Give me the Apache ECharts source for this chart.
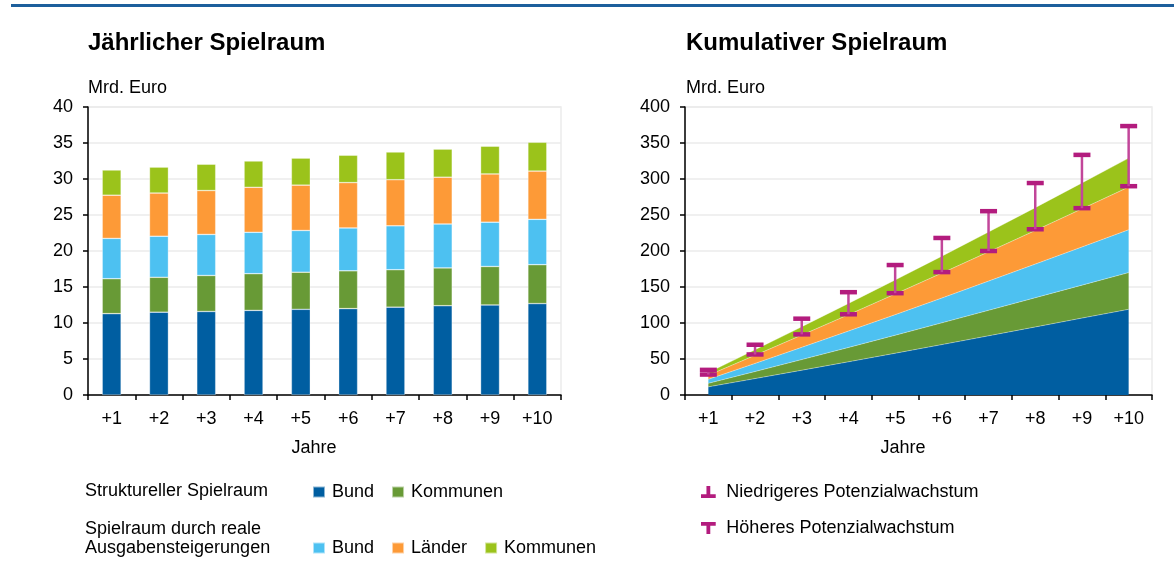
<!DOCTYPE html>
<html>
<head>
<meta charset="utf-8">
<title>Spielraum</title>
<script src="https://cdn.jsdelivr.net/npm/echarts@6/dist/echarts.min.js"></script>
<style>
  html, body { margin: 0; padding: 0; background: #fff; }
  #chart { width: 1174px; height: 568px; }
</style>
</head>
<body>
<div id="chart"></div>
<script>
// Kategorien (Jahre)
const years = ['+1', '+2', '+3', '+4', '+5', '+6', '+7', '+8', '+9', '+10']

// Jährlicher Spielraum, Mrd. Euro
const bundStrukturell = [11.3, 11.5, 11.6, 11.75, 11.9, 12.0, 12.2, 12.4, 12.5, 12.7]
const kommunenStrukturell = [4.85, 4.85, 5.0, 5.1, 5.15, 5.25, 5.2, 5.25, 5.35, 5.4]
const bundReal = [5.6, 5.7, 5.7, 5.75, 5.8, 5.95, 6.1, 6.1, 6.15, 6.3]
const laenderReal = [6.0, 6.0, 6.1, 6.25, 6.3, 6.3, 6.4, 6.5, 6.7, 6.7]
const kommunenReal = [3.5, 3.6, 3.65, 3.65, 3.75, 3.8, 3.85, 3.9, 3.85, 4.0]

// Kumulativer Spielraum, Mrd. Euro
const cumBund = [11.3, 22.8, 34.4, 46.1, 58.0, 70.0, 82.2, 94.5, 106.8, 119.0]
const cumKommunen = [4.9, 9.8, 14.8, 19.9, 25.0, 30.2, 35.4, 40.6, 45.8, 51.0]
const cumBundReal = [5.6, 11.3, 17.0, 22.8, 28.6, 34.5, 40.6, 46.7, 53.0, 59.5]
const cumLaenderReal = [5.6, 11.3, 17.0, 22.8, 28.7, 34.6, 40.6, 46.7, 53.0, 59.3]
const cumKommunenReal = [3.8, 7.7, 11.6, 15.5, 19.5, 23.5, 27.6, 31.7, 35.9, 40.2]

// Potenzialwachstum (Spanne)
const potLow = [28.4, 56.3, 84.2, 112.1, 141.4, 170.7, 200, 230.2, 259.5, 290]
const potHigh = [34.9, 69.8, 106, 142.8, 180.5, 218.1, 255.3, 294.4, 333.5, 373.5]

// Achsen-Ticks
const leftTicks = { min: 0, max: 40, interval: 5 }
const rightTicks = { min: 0, max: 400, interval: 50 }

const FONT = '"Liberation Sans", Arial, Helvetica, sans-serif'
const C_BUND = '#005ea1'
const C_KOMM = '#689a36'
const C_BUND_R = '#4dc1f1'
const C_LAND = '#fd9a37'
const C_KOMM_R = '#9bc31b'
const C_POT = '#b31c7e'

const chart = echarts.init(document.getElementById('chart'))

const grids = [
  { left: 88, top: 107, width: 473, height: 288 },
  { left: 685, top: 107, width: 467, height: 288 }
]

const makeX = (gridIndex) => ({
  type: 'category',
  gridIndex,
  data: years,
  boundaryGap: true,
  axisLine: { lineStyle: { color: '#000', width: 1.5 } },
  axisTick: { show: true, length: 5, lineStyle: { color: '#000', width: 1.5 } },
  axisLabel: { color: '#000', fontSize: 18, fontFamily: FONT, margin: 15 }
})

const makeY = (gridIndex, ticks) => ({
  type: 'value',
  gridIndex,
  min: ticks.min,
  max: ticks.max,
  interval: ticks.interval,
  axisLine: { show: true, lineStyle: { color: '#000', width: 1.5 } },
  axisTick: { show: true, length: 5, lineStyle: { color: '#000', width: 1.5 } },
  axisLabel: { color: '#000', fontSize: 18, fontFamily: FONT, margin: 15 },
  splitLine: { lineStyle: { color: '#ebebeb', width: 1.5 } }
})

const bar = (name, data, color) => ({
  name,
  type: 'bar',
  stack: 'jahr',
  barWidth: '40%',
  xAxisIndex: 0,
  yAxisIndex: 0,
  data,
  itemStyle: { color, borderColor: 'rgba(255,255,255,0.55)', borderWidth: 0.6 }
})

const area = (name, data, color) => ({
  name,
  type: 'line',
  stack: 'kum',
  xAxisIndex: 1,
  yAxisIndex: 1,
  data,
  symbol: 'none',
  lineStyle: { width: 0.6, color: 'rgba(255,255,255,0.6)' },
  areaStyle: { color, opacity: 1 },
  itemStyle: { color }
})

const potData = years.map((y, i) => [i, potLow[i], potHigh[i]])

// obere Kappe + Verbindungslinie
const renderHigh = (params, api) => {
  const i = api.value(0)
  const lo = api.coord([i, api.value(1)])
  const hi = api.coord([i, api.value(2)])
  return {
    type: 'group',
    children: [
      { type: 'line', shape: { x1: hi[0], y1: hi[1], x2: lo[0], y2: lo[1] }, style: { stroke: '#c2469a', lineWidth: 2.5 } },
      { type: 'line', shape: { x1: hi[0] - 8.5, y1: hi[1], x2: hi[0] + 8.5, y2: hi[1] }, style: { stroke: C_POT, lineWidth: 4.5 } }
    ]
  }
}

// untere Kappe
const renderLow = (params, api) => {
  const i = api.value(0)
  const lo = api.coord([i, api.value(1)])
  return {
    type: 'line',
    shape: { x1: lo[0] - 8.5, y1: lo[1], x2: lo[0] + 8.5, y2: lo[1] },
    style: { stroke: C_POT, lineWidth: 4.5 }
  }
}

const legendText = { color: '#000', fontSize: 18, fontFamily: FONT, padding: [0, 0, 0, 2] }
const stripName = (name) => name.split('#')[0]

const text = (str, x, y, extra) => ({
  type: 'text',
  x,
  y,
  style: Object.assign({ text: str, fill: '#000', font: '18px ' + FONT, verticalAlign: 'middle' }, extra || {})
})

const option = {
  animation: false,
  grid: grids.map((g) => Object.assign({ show: true, borderColor: '#ebebeb', borderWidth: 1.5 }, g)),
  xAxis: [makeX(0), makeX(1)],
  yAxis: [makeY(0, leftTicks), makeY(1, rightTicks)],
  legend: [
    {
      left: 307,
      top: 478,
      itemWidth: 12,
      itemHeight: 11,
      itemGap: 17,
      icon: 'rect',
      data: ['Bund#s', 'Kommunen#s'],
      formatter: stripName,
      textStyle: legendText
    },
    {
      left: 307,
      top: 534,
      itemWidth: 12,
      itemHeight: 11,
      itemGap: 17,
      icon: 'rect',
      data: ['Bund#r', 'Länder#r', 'Kommunen#r'],
      formatter: stripName,
      textStyle: legendText
    },
    {
      left: 696,
      top: 478,
      orient: 'vertical',
      itemWidth: 16,
      itemHeight: 12,
      itemGap: 18,
      data: [
        { name: 'Niedrigeres Potenzialwachstum', icon: 'path://M5,0 H8.5 V7.5 H13.5 V11 H0 V7.5 H5 Z' },
        { name: 'Höheres Potenzialwachstum', icon: 'path://M0,0 H13.5 V3.5 H8.5 V11 H5 V3.5 H0 Z' }
      ],
      textStyle: { color: '#000', fontSize: 18, fontFamily: FONT, padding: [0, 0, 0, 5] }
    }
  ],
  graphic: [
    { type: 'rect', shape: { x: 11, y: 4, width: 1163, height: 3 }, style: { fill: '#1d5f9c' } },
    text('Jährlicher Spielraum', 88, 43, { font: 'bold 24px ' + FONT }),
    text('Kumulativer Spielraum', 686, 43, { font: 'bold 24px ' + FONT }),
    text('Mrd. Euro', 88, 88),
    text('Mrd. Euro', 686, 88),
    text('Jahre', 314, 448, { align: 'center' }),
    text('Jahre', 903, 448, { align: 'center' }),
    text('Struktureller Spielraum', 85, 491),
    text('Spielraum durch reale', 85, 529),
    text('Ausgabensteigerungen', 85, 548)
  ],
  series: [
    bar('Bund#s', bundStrukturell, C_BUND),
    bar('Kommunen#s', kommunenStrukturell, C_KOMM),
    bar('Bund#r', bundReal, C_BUND_R),
    bar('Länder#r', laenderReal, C_LAND),
    bar('Kommunen#r', kommunenReal, C_KOMM_R),
    area('Bund#s', cumBund, C_BUND),
    area('Kommunen#s', cumKommunen, C_KOMM),
    area('Bund#r', cumBundReal, C_BUND_R),
    area('Länder#r', cumLaenderReal, C_LAND),
    area('Kommunen#r', cumKommunenReal, C_KOMM_R),
    {
      name: 'Niedrigeres Potenzialwachstum',
      type: 'custom',
      xAxisIndex: 1,
      yAxisIndex: 1,
      z: 5,
      data: potData,
      encode: { x: 0, y: [1, 2] },
      itemStyle: { color: C_POT },
      renderItem: renderLow
    },
    {
      name: 'Höheres Potenzialwachstum',
      type: 'custom',
      xAxisIndex: 1,
      yAxisIndex: 1,
      z: 5,
      data: potData,
      encode: { x: 0, y: [1, 2] },
      itemStyle: { color: C_POT },
      renderItem: renderHigh
    }
  ]
}

chart.setOption(option)
</script>
</body>
</html>
